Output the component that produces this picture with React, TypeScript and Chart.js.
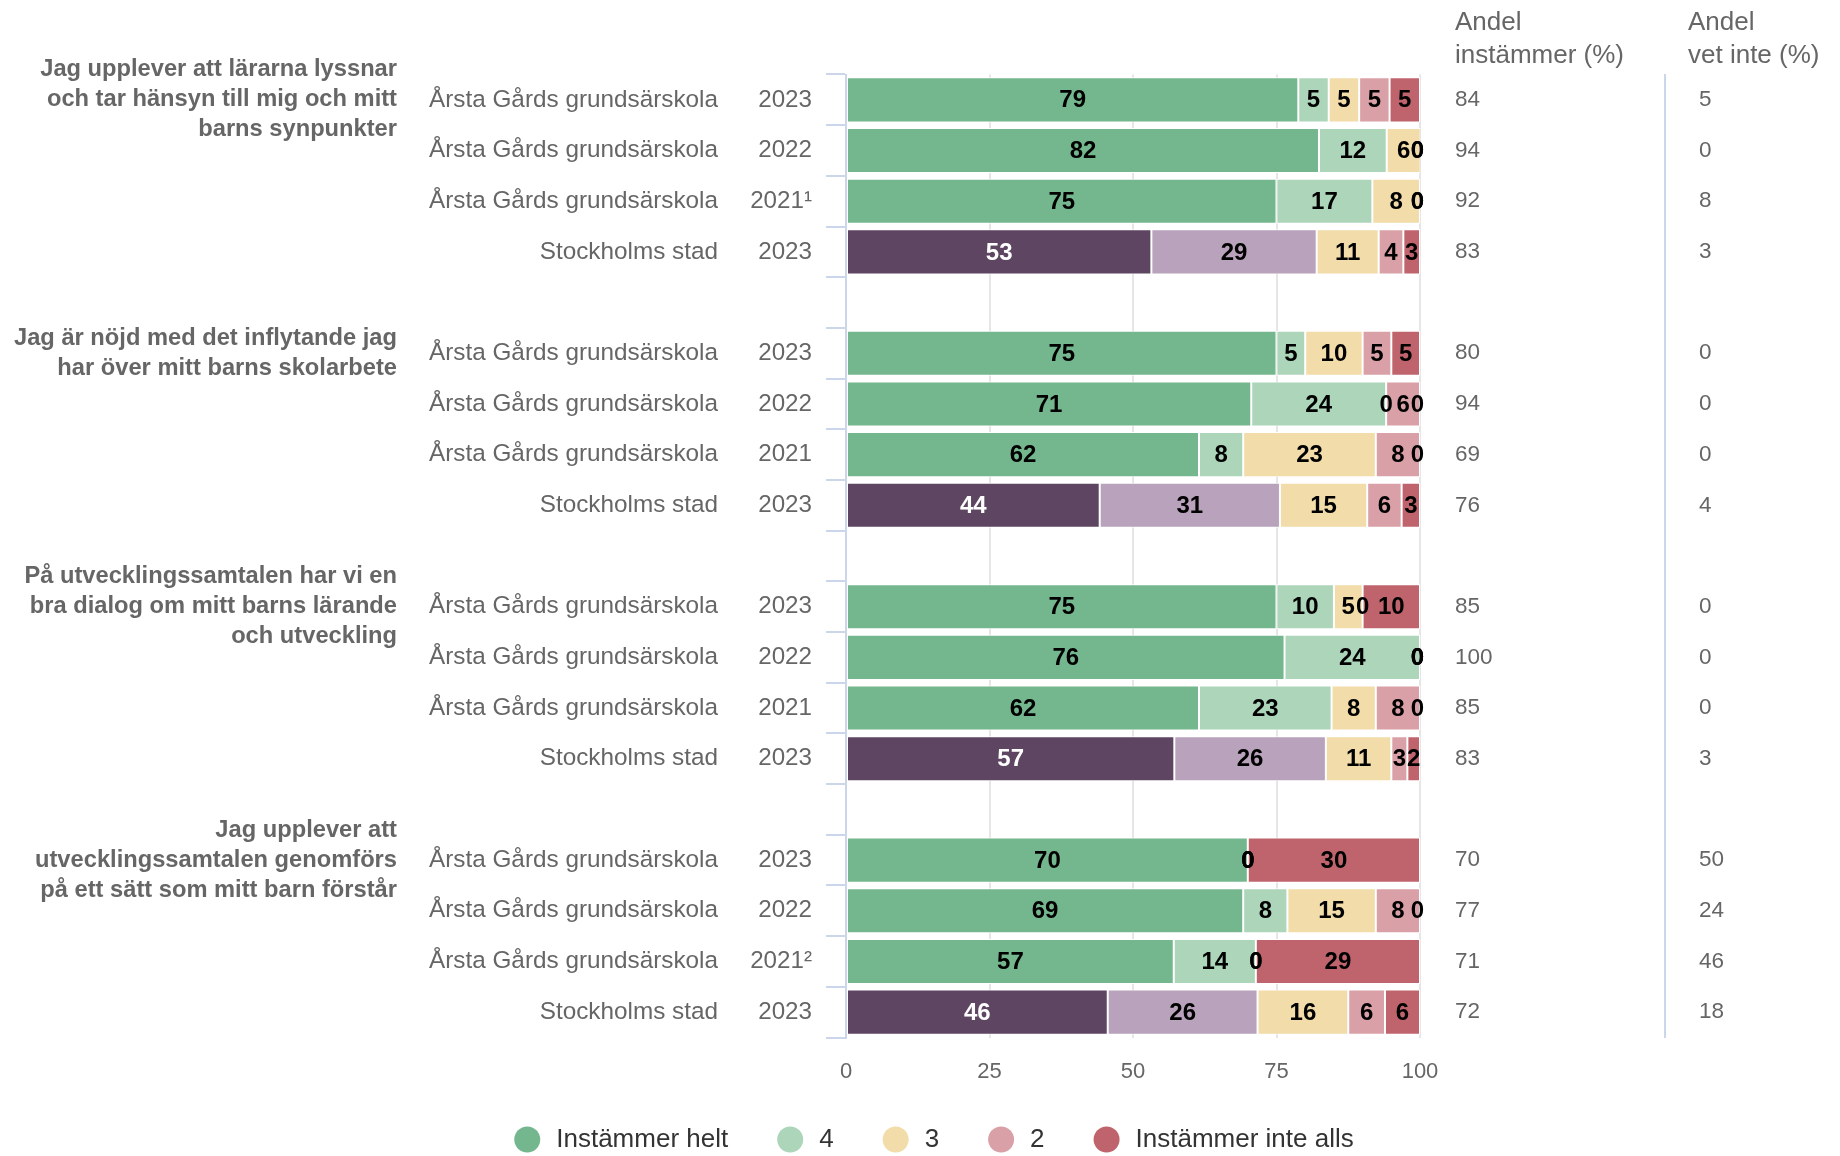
import React, { useEffect, useRef } from "react";
import { Chart, registerables } from "chart.js";

Chart.register(...registerables);

const FONT = "'Liberation Sans', Arial, Helvetica, sans-serif";

// ---------- data ----------
const questions: string[][] = [
  ["Jag upplever att lärarna lyssnar", "och tar hänsyn till mig och mitt", "barns synpunkter"],
  ["Jag är nöjd med det inflytande jag", "har över mitt barns skolarbete"],
  ["På utvecklingssamtalen har vi en", "bra dialog om mitt barns lärande", "och utveckling"],
  ["Jag upplever att", "utvecklingssamtalen genomförs", "på ett sätt som mitt barn förstår"],
];

const units = [
  "Årsta Gårds grundsärskola", "Årsta Gårds grundsärskola", "Årsta Gårds grundsärskola", "Stockholms stad",
  "Årsta Gårds grundsärskola", "Årsta Gårds grundsärskola", "Årsta Gårds grundsärskola", "Stockholms stad",
  "Årsta Gårds grundsärskola", "Årsta Gårds grundsärskola", "Årsta Gårds grundsärskola", "Stockholms stad",
  "Årsta Gårds grundsärskola", "Årsta Gårds grundsärskola", "Årsta Gårds grundsärskola", "Stockholms stad",
];

const years = [
  "2023", "2022", "2021¹", "2023",
  "2023", "2022", "2021", "2023",
  "2023", "2022", "2021", "2023",
  "2023", "2022", "2021²", "2023",
];

const seriesNames = ["Instämmer helt", "4", "3", "2", "Instämmer inte alls"];

// percentages (labels show the rounded value)
const instammerHelt = [78.8, 82.4, 75, 53.2, 75, 70.6, 61.5, 44.2, 75, 76.4, 61.5, 57.2, 70, 69.2, 57.1, 45.6];
const svar4 = [5.3, 11.8, 16.7, 28.8, 5, 23.5, 7.7, 31.4, 10, 23.6, 23.1, 26.4, 0, 7.7, 14.3, 26.1];
const svar3 = [5.3, 5.9, 8.3, 10.8, 10, 0, 23.1, 15.2, 5, 0, 7.7, 11.4, 0, 15.4, 0, 15.8];
const svar2 = [5.3, 0, 0, 4.3, 5, 5.9, 7.7, 6.0, 0, 0, 7.7, 2.8, 0, 7.7, 0, 6.4];
const instammerInteAlls = [5.3, 0, 0, 2.9, 5, 0, 0, 3.2, 10, 0, 0, 2.2, 30, 0, 28.6, 6.1];

const andelInstammer = [84, 94, 92, 83, 80, 94, 69, 76, 85, 100, 85, 83, 70, 77, 71, 72];
const andelVetInte = [5, 0, 8, 3, 0, 0, 0, 4, 0, 0, 0, 3, 50, 24, 46, 18];

const headerInstammer = ["Andel", "instämmer (%)"];
const headerVetInte = ["Andel", "vet inte (%)"];

const xTicks = [0, 25, 50, 75, 100];

const schoolColors = ["#74b78e", "#acd5ba", "#f2dca9", "#d9a0a7", "#bf646c"];
const cityColors = ["#5e4561", "#b9a2bb", "#f2dca9", "#d9a0a7", "#bf646c"];
const cityUnit = "Stockholms stad";
const ROWS_PER_GROUP = 4;

// ---------- derived structures ----------
const rawSeries = [instammerHelt, svar4, svar3, svar2, instammerInteAlls];

const rowIndex: (number | null)[] = [];
questions.forEach((_q, g) => {
  for (let r = 0; r < ROWS_PER_GROUP; r++) rowIndex.push(g * ROWS_PER_GROUP + r);
  if (g < questions.length - 1) rowIndex.push(null);
});

const yearLabels = rowIndex.map((i) => (i === null ? "" : years[i]));
const unitLabels = rowIndex.map((i) => (i === null ? "" : units[i]));
const questionLabels = rowIndex.map((i) =>
  i !== null && i % ROWS_PER_GROUP === 0 ? questions[i / ROWS_PER_GROUP] : ""
);
const instLabels = rowIndex.map((i) => (i === null ? "" : String(andelInstammer[i])));
const vetLabels = rowIndex.map((i) => (i === null ? "" : String(andelVetInte[i])));

const datasets = rawSeries.map((vals, s) => ({
  label: seriesNames[s],
  data: rowIndex.map((i) => (i === null ? null : vals[i])),
  backgroundColor: rowIndex.map((i) =>
    i === null ? "rgba(0,0,0,0)" : units[i] === cityUnit ? cityColors[s] : schoolColors[s]
  ),
  borderColor: "#ffffff",
  borderWidth: 1,
  borderSkipped: false,
  xAxisID: "x",
  yAxisID: "y",
  barPercentage: 0.89,
  categoryPercentage: 1,
}));

// ---------- plugins ----------
const dataLabelPlugin = {
  id: "segmentLabels",
  afterDatasetsDraw(chart: any) {
    const ctx = chart.ctx;
    const area = chart.chartArea;
    ctx.save();
    ctx.font = `bold 24px ${FONT}`;
    ctx.textAlign = "center";
    ctx.textBaseline = "middle";
    chart.data.datasets.forEach((_ds: any, s: number) => {
      const meta = chart.getDatasetMeta(s);
      meta.data.forEach((bar: any, j: number) => {
        const i = rowIndex[j];
        if (i === null) return;
        const text = String(Math.round(rawSeries[s][i]));
        const { x, y, base } = bar.getProps(["x", "y", "base"], true);
        const hw = ctx.measureText(text).width / 2;
        let cx = (x + base) / 2;
        cx = Math.min(cx, area.right + 4 - hw);
        cx = Math.max(cx, area.left + hw);
        ctx.fillStyle = units[i] === cityUnit && s === 0 ? "#ffffff" : "#000000";
        ctx.fillText(text, cx, y + 1);
      });
    });
    ctx.restore();
  },
};

const extrasPlugin = {
  id: "extras",
  afterDraw(chart: any) {
    const ctx = chart.ctx;
    ctx.save();
    // column headers
    ctx.font = `26px ${FONT}`;
    ctx.fillStyle = "#666666";
    ctx.textAlign = "left";
    ctx.textBaseline = "middle";
    const yA = chart.scales.yA;
    const yV = chart.scales.yV;
    headerInstammer.forEach((t, k) => ctx.fillText(t, yA.left + 35, 23 + k * 33));
    headerVetInte.forEach((t, k) => ctx.fillText(t, yV.left + 23, 23 + k * 33));

    // legend
    const r = 13;
    const boxToText = 42;
    const gap = 49;
    const widths = seriesNames.map((n) => ctx.measureText(n).width);
    const total =
      widths.reduce((a, w) => a + w + boxToText, 0) + gap * (seriesNames.length - 1);
    let x = 934 - total / 2;
    const ly = 1139.5;
    seriesNames.forEach((n, s) => {
      ctx.beginPath();
      ctx.fillStyle = schoolColors[s];
      ctx.arc(x + r, ly, r, 0, Math.PI * 2);
      ctx.fill();
      ctx.fillStyle = "#333333";
      ctx.fillText(n, x + boxToText, ly);
      x += boxToText + widths[s] + gap;
    });
    ctx.restore();
  },
};

// ---------- component ----------
export default function App() {
  const ref = useRef<HTMLCanvasElement>(null);

  useEffect(() => {
    document.body.style.margin = "0";
    document.body.style.overflow = "hidden";
    const canvas = ref.current;
    if (!canvas) return;

    const catAxisBase = {
      type: "category",
      axis: "y",
      offset: true,
      grid: { display: false, drawTicks: false, offset: true },
      border: { display: false },
    };

    const chart = new Chart(canvas, {
      type: "bar",
      data: { labels: yearLabels, datasets: datasets as any },
      options: {
        indexAxis: "y",
        responsive: false,
        animation: false,
        devicePixelRatio: 1,
        layout: { padding: { top: 74.5, bottom: 68.5, left: 0, right: 0 } },
        plugins: { legend: { display: false }, tooltip: { enabled: false } },
        scales: {
          x: {
            type: "linear",
            position: "bottom",
            min: 0,
            max: 100,
            stacked: true,
            grid: {
              color: (c: any) => (c.tick && c.tick.value === 0 ? "rgba(0,0,0,0)" : "#e6e6e6"),
              lineWidth: 2,
              drawTicks: false,
            },
            border: { display: false },
            ticks: { padding: 21, color: "#666666", font: { family: FONT, size: 22 } },
            afterBuildTicks: (s: any) => {
              s.ticks = xTicks.map((v) => ({ value: v }));
            },
            afterFit: (s: any) => {
              s.height = 50;
            },
          },
          y: {
            type: "category",
            position: "left",
            weight: 0,
            stacked: true,
            offset: true,
            grid: {
              display: true,
              drawOnChartArea: false,
              drawTicks: true,
              tickLength: 20,
              offset: true,
              color: "#ccd6eb",
              lineWidth: 2,
            },
            border: { display: true, color: "#ccd6eb", width: 2 },
            ticks: {
              autoSkip: false,
              padding: 14,
              color: "#666666",
              font: { family: FONT, size: 24.2 },
            },
            afterFit: (s: any) => {
              s.width = 106;
            },
          },
          yUnit: {
            ...catAxisBase,
            position: "left",
            weight: 1,
            labels: unitLabels,
            ticks: { autoSkip: false, padding: 22, color: "#666666", font: { family: FONT, size: 24.3 } },
            afterFit: (s: any) => {
              s.width = 320;
            },
          },
          yQ: {
            ...catAxisBase,
            position: "left",
            weight: 2,
            labels: questionLabels,
            ticks: {
              autoSkip: false,
              padding: 23,
              color: "#666666",
              font: { family: FONT, size: 23.7, weight: "bold", lineHeight: 1.27 },
            },
            afterFit: (s: any) => {
              s.width = 420;
            },
          },
          yA: {
            ...catAxisBase,
            position: "right",
            weight: 0,
            labels: instLabels,
            ticks: { autoSkip: false, padding: 35, color: "#666666", font: { family: FONT, size: 22.5 } },
            afterFit: (s: any) => {
              s.width = 245;
            },
          },
          yV: {
            ...catAxisBase,
            position: "right",
            weight: 1,
            labels: vetLabels,
            border: { display: true, color: "#ccd6eb", width: 2 },
            ticks: { autoSkip: false, padding: 34, color: "#666666", font: { family: FONT, size: 22.5 } },
            afterFit: (s: any) => {
              s.width = 175;
            },
          },
        } as any,
      },
      plugins: [dataLabelPlugin, extrasPlugin],
    } as any);

    return () => chart.destroy();
  }, []);

  return (
    <div style={{ width: 1840, height: 1156, position: "relative", background: "#ffffff" }}>
      <canvas ref={ref} width={1840} height={1156} style={{ display: "block", width: 1840, height: 1156 }} />
    </div>
  );
}
